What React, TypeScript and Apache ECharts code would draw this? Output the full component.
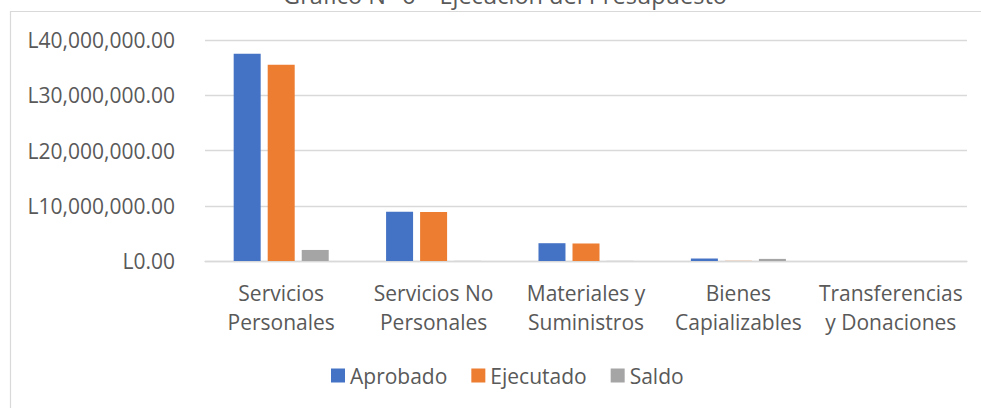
import React, { useEffect, useRef } from "react";
import * as echarts from "echarts";

const categories = [
  "Servicios\nPersonales",
  "Servicios No\nPersonales",
  "Materiales y\nSuministros",
  "Bienes\nCapializables",
  "Transferencias\ny Donaciones",
];
const aprobado = [37500000, 8900000, 3220000, 450000, 0];
const ejecutado = [35500000, 8850000, 3170000, 30000, 0];
const saldo = [2000000, 20000, 20000, 380000, 0];
const seriesNames = ["Aprobado", "Ejecutado", "Saldo"];
const titleText = "Gráfico N° 6 – Ejecución del Presupuesto";

const FONT = "'Open Sans', 'Noto Sans', sans-serif";
const TEXT = "#595959";
const GRID = "#D9D9D9";

const fmt = (v: number) =>
  "L" + v.toLocaleString("en-US", { minimumFractionDigits: 2, maximumFractionDigits: 2 });

export default function App() {
  const ref = useRef<HTMLDivElement>(null);
  useEffect(() => {
    if (!ref.current) return;
    const chart = echarts.init(ref.current, null, { renderer: "svg" });
    chart.setOption({
      animation: false,
      backgroundColor: "#ffffff",
      color: ["#4472C4", "#ED7D31", "#A5A5A5"],
      graphic: [
        {
          type: "rect",
          shape: { x: 10.5, y: 11.5, width: 1100, height: 600 },
          style: { fill: "none", stroke: GRID, lineWidth: 1.2 },
          silent: true,
        },
        {
          type: "text",
          x: 505,
          y: -5,
          style: {
            text: titleText,
            fontFamily: FONT,
            fontSize: 23.5,
            fill: TEXT,
            align: "center",
            verticalAlign: "middle",
          },
        },
      ],
      grid: { left: 205, right: 14, top: 40, bottom: 147, containLabel: false },
      legend: {
        data: seriesNames,
        left: 331,
        top: 365,
        padding: 0,
        itemWidth: 14,
        itemHeight: 14,
        itemGap: 24,
        icon: "rect",
        textStyle: { fontFamily: FONT, fontSize: 21, color: TEXT },
      },
      xAxis: {
        type: "category",
        data: categories,
        axisLine: { show: true, lineStyle: { color: GRID, width: 1.3 } },
        axisTick: { show: false },
        axisLabel: {
          interval: 0,
          margin: 17,
          fontFamily: FONT,
          fontSize: 21,
          lineHeight: 29,
          color: TEXT,
        },
      },
      yAxis: {
        type: "value",
        min: 0,
        max: 40000000,
        interval: 10000000,
        axisLine: { show: false },
        axisTick: { show: false },
        splitLine: { lineStyle: { color: GRID, width: 1.3 } },
        axisLabel: {
          margin: 30,
          fontFamily: FONT,
          fontSize: 21,
          color: TEXT,
          formatter: (v: number) => fmt(v),
        },
      },
      series: [
        { name: seriesNames[0], type: "bar", data: aprobado, barWidth: 27, barGap: "26%" },
        { name: seriesNames[1], type: "bar", data: ejecutado, barWidth: 27, barGap: "26%" },
        { name: seriesNames[2], type: "bar", data: saldo, barWidth: 27, barGap: "26%" },
      ],
    });
    return () => chart.dispose();
  }, []);
  return (
    <div
      ref={ref}
      style={{ position: "fixed", left: 0, top: 0, width: 981, height: 408 }}
    />
  );
}
